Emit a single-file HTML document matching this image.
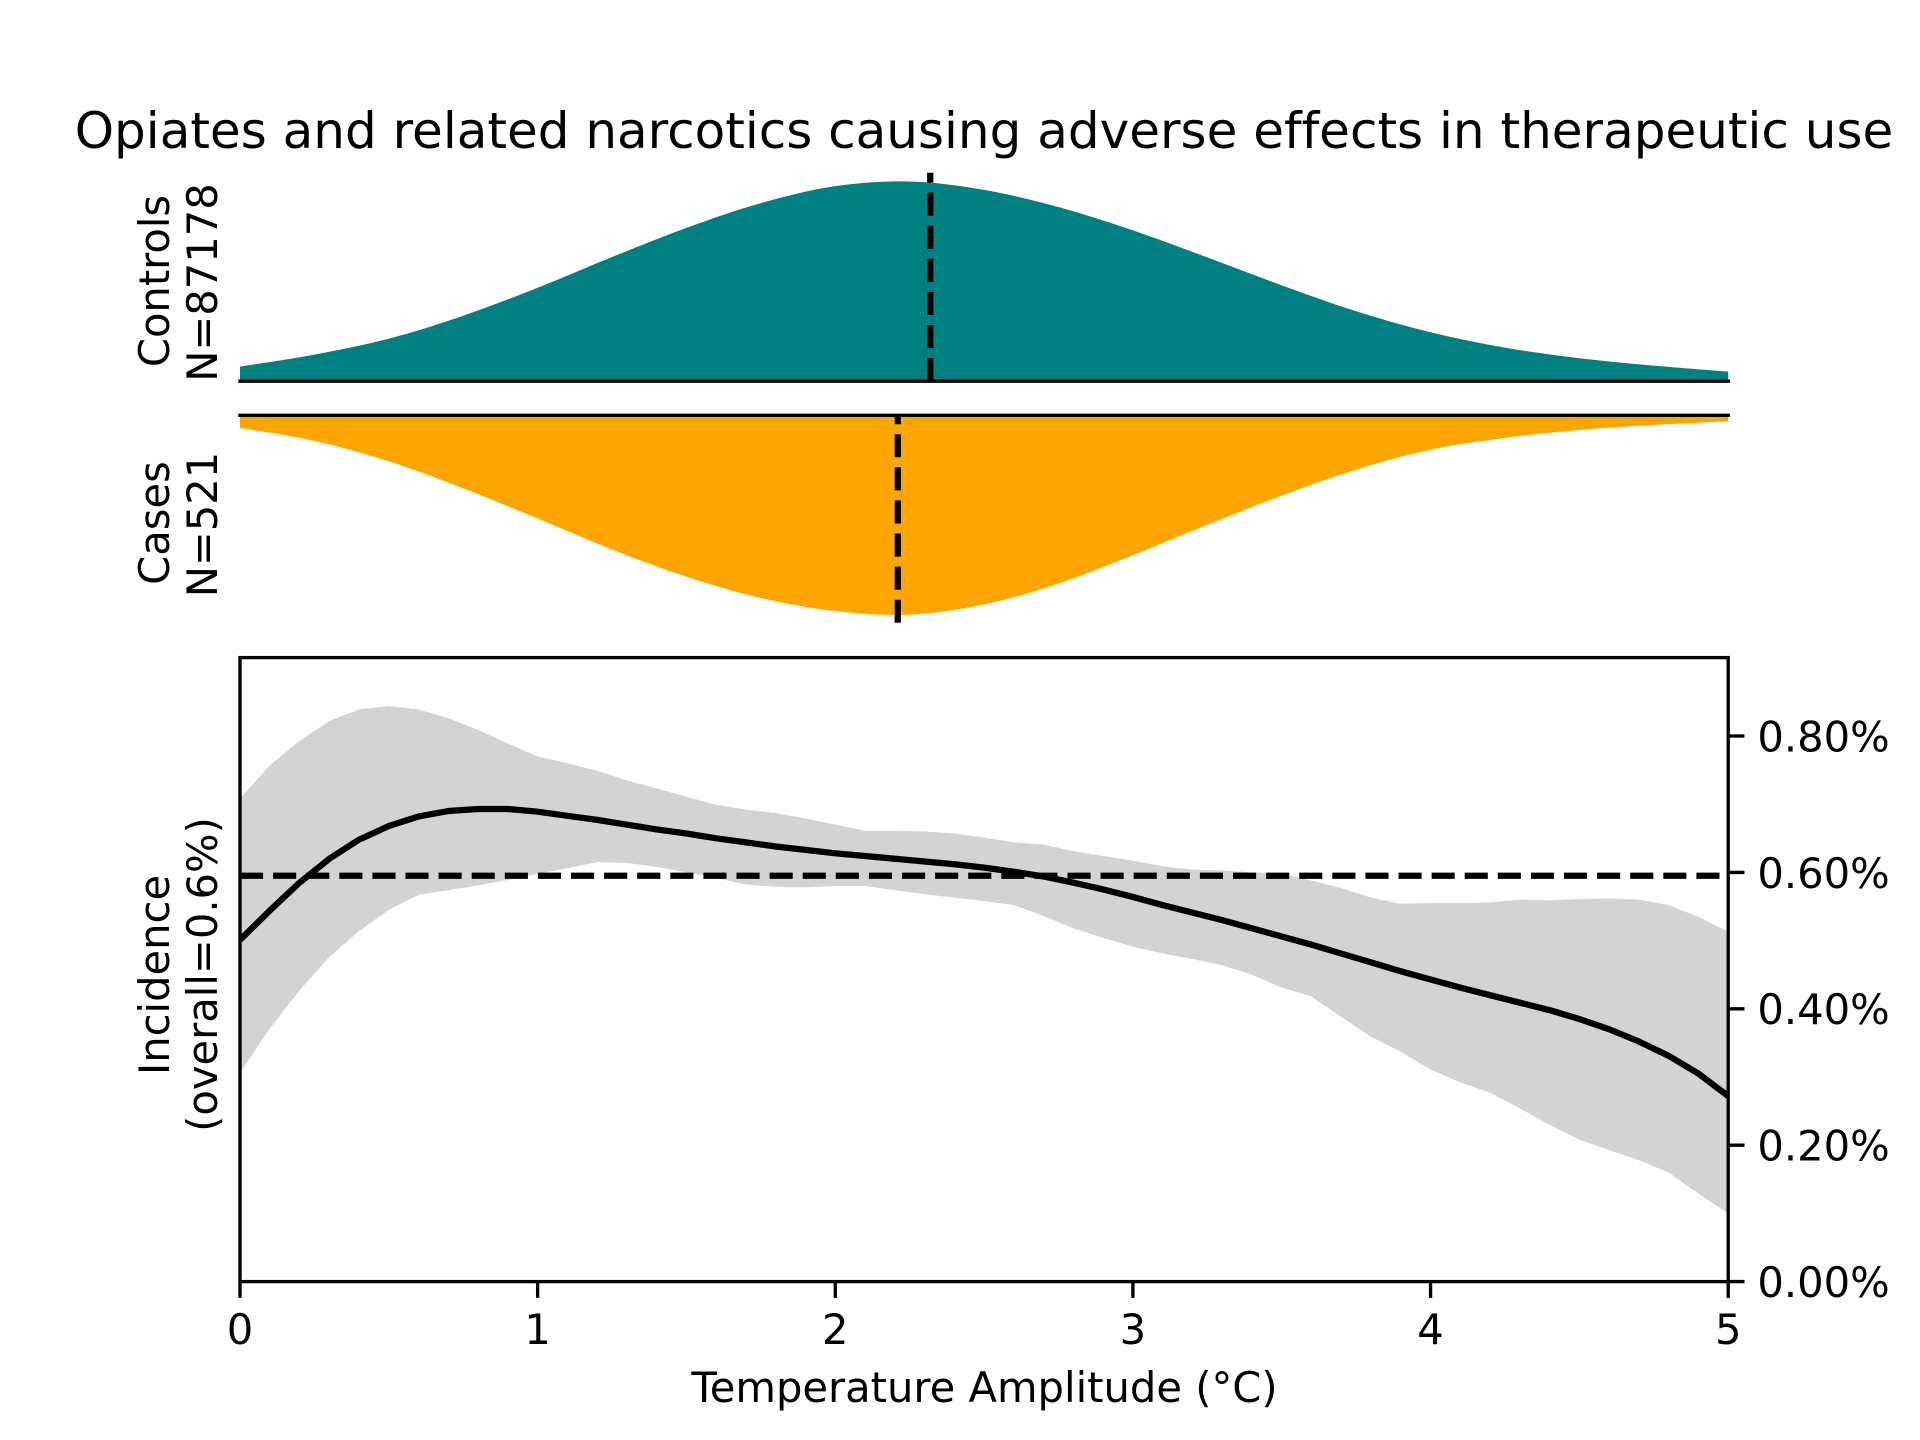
<!DOCTYPE html>
<html lang="en">
<head>
<meta charset="utf-8">
<title>Opiates and related narcotics causing adverse effects in therapeutic use</title>
<style>
html,body{margin:0;padding:0;background:#fff;width:1920px;height:1440px;overflow:hidden}
svg{display:block}
text{font-family:"DejaVu Sans","Liberation Sans",sans-serif;fill:#000;font-variant-ligatures:none}
</style>
</head>
<body>
<svg id="chart" xmlns="http://www.w3.org/2000/svg" width="1920" height="1440" viewBox="0 0 1920 1440">
  <rect x="0" y="0" width="1920" height="1440" fill="#fff"/>
  <defs>
    <clipPath id="bottom-clip"><rect x="240" y="657.6" width="1488" height="624"/></clipPath>
  </defs>
  <text x="984" y="148" font-size="50" text-anchor="middle">Opiates and related narcotics causing adverse effects in therapeutic use</text>
  <g id="controls-layer"></g>
  <g id="cases-layer"></g>
  <g id="incidence-layer"></g>
  <g id="tick-layer"></g>

  <g>
    <text font-size="41.67" text-anchor="middle" transform="translate(169 281) rotate(-90)">Controls</text>
    <text font-size="41.67" text-anchor="middle" transform="translate(217 282.5) rotate(-90)">N=87178</text>
  </g>
  <g>
    <text font-size="41.67" text-anchor="middle" transform="translate(169 523) rotate(-90)">Cases</text>
    <text font-size="41.67" text-anchor="middle" transform="translate(217 524.5) rotate(-90)">N=521</text>
  </g>
  <g>
    <text font-size="41.67" text-anchor="middle" transform="translate(169 975) rotate(-90)">Incidence</text>
    <text font-size="41.67" text-anchor="middle" transform="translate(217 974.5) rotate(-90)">(overall=0.6%)</text>
  </g>
  <text x="984.5" y="1402" font-size="41.67" text-anchor="middle">Temperature Amplitude (°C)</text>
</svg>
<script>
const densityGrid = [0,0.25,0.5,0.75,1,1.25,1.5,1.75,2,2.25,2.5,2.75,3,3.25,3.5,3.75,4,4.25,4.5,4.75,5];
const controlsDensity = [0.073,0.133,0.213,0.328,0.468,0.622,0.768,0.892,0.977,1.0,0.958,0.872,0.755,0.62,0.48,0.35,0.245,0.168,0.115,0.078,0.048];
const casesDensity = [0.063,0.128,0.23,0.365,0.517,0.672,0.808,0.915,0.98,0.998,0.947,0.842,0.70,0.548,0.402,0.272,0.172,0.113,0.073,0.048,0.030];
const controlsMean = 2.319;
const casesMean = 2.21;
const incidenceGrid = [0,0.1,0.2,0.3,0.4,0.5,0.6,0.7,0.8,0.9,1,1.1,1.2,1.3,1.4,1.5,1.6,1.7,1.8,1.9,2,2.1,2.2,2.3,2.4,2.5,2.6,2.7,2.8,2.9,3,3.1,3.2,3.3,3.4,3.5,3.6,3.7,3.8,3.9,4,4.1,4.2,4.3,4.4,4.5,4.6,4.7,4.8,4.9,5];
const incidenceUpper = [0.708,0.757,0.793,0.822,0.839,0.844,0.839,0.826,0.809,0.789,0.770,0.760,0.749,0.735,0.723,0.711,0.699,0.692,0.687,0.679,0.670,0.661,0.661,0.660,0.657,0.651,0.644,0.641,0.631,0.624,0.617,0.609,0.604,0.603,0.600,0.598,0.588,0.577,0.563,0.554,0.555,0.555,0.556,0.560,0.559,0.561,0.562,0.560,0.552,0.535,0.513];
const incidenceLower = [0.306,0.371,0.427,0.476,0.514,0.545,0.567,0.574,0.581,0.589,0.598,0.606,0.615,0.614,0.608,0.600,0.592,0.582,0.579,0.578,0.580,0.580,0.574,0.568,0.563,0.558,0.552,0.536,0.518,0.504,0.491,0.481,0.473,0.464,0.450,0.431,0.418,0.388,0.359,0.337,0.311,0.292,0.277,0.254,0.230,0.208,0.193,0.178,0.160,0.129,0.100];
const incidenceMean = [0.501,0.544,0.585,0.620,0.648,0.668,0.682,0.690,0.693,0.693,0.689,0.683,0.677,0.670,0.663,0.657,0.650,0.644,0.638,0.633,0.628,0.624,0.620,0.616,0.612,0.607,0.601,0.594,0.585,0.575,0.564,0.552,0.541,0.530,0.518,0.506,0.494,0.481,0.468,0.455,0.443,0.431,0.420,0.409,0.398,0.385,0.370,0.352,0.331,0.305,0.272];
const overallIncidence = 0.595;
const xTickValues = [0,1,2,3,4,5];
const xTickLabels = ["0","1","2","3","4","5"];
const yTickValues = [0,0.2,0.4,0.6,0.8];
const yTickLabels = ["0.00%","0.20%","0.40%","0.60%","0.80%"];

const NS = 'http://www.w3.org/2000/svg';
const LEFT = 240, RIGHT = 1728.2;
const INC_TOP = 657.6, INC_BOTTOM = 1281.6;
const CONTROLS_TOP = 172.8, CONTROLS_BASE = 381.2;
const CASES_BASE = 415.3, CASES_BOTTOM = 622.8;
const DENSITY_PX = 199.7;
const INC_PX = 682;

function xAxis(t){ return LEFT + t * (RIGHT - LEFT) / 5; }
function controlsY(v){ return CONTROLS_BASE - v * DENSITY_PX; }
function casesY(v){ return CASES_BASE + v * DENSITY_PX; }
function incY(v){ return INC_BOTTOM - v * INC_PX; }

function make(tag, attrs, parent){
  const el = document.createElementNS(NS, tag);
  for (const k in attrs) el.setAttribute(k, attrs[k]);
  parent.appendChild(el);
  return el;
}
function smoothPath(pts){
  let d = 'M' + pts[0][0].toFixed(2) + ' ' + pts[0][1].toFixed(2);
  for (let i = 0; i < pts.length - 1; i++){
    const p0 = pts[Math.max(i-1,0)], p1 = pts[i], p2 = pts[i+1], p3 = pts[Math.min(i+2,pts.length-1)];
    const c1x = p1[0] + (p2[0]-p0[0])/6, c1y = p1[1] + (p2[1]-p0[1])/6;
    const c2x = p2[0] - (p3[0]-p1[0])/6, c2y = p2[1] - (p3[1]-p1[1])/6;
    d += 'C' + c1x.toFixed(2) + ' ' + c1y.toFixed(2) + ' ' + c2x.toFixed(2) + ' ' + c2y.toFixed(2) + ' ' + p2[0].toFixed(2) + ' ' + p2[1].toFixed(2);
  }
  return d;
}
function polyPoints(xs, ys, yFn){
  return xs.map(function(t, i){ return xAxis(t).toFixed(2) + ',' + yFn(ys[i]).toFixed(2); });
}

const controlsLayer = document.getElementById('controls-layer');
const casesLayer = document.getElementById('cases-layer');
const incidenceLayer = document.getElementById('incidence-layer');
const tickLayer = document.getElementById('tick-layer');

/* Controls density */
const controlsPts = densityGrid.map(function(t, i){ return [xAxis(t), controlsY(controlsDensity[i])]; });
const controlsFill = make('path', {
  d: smoothPath(controlsPts) + 'L' + xAxis(5) + ' ' + CONTROLS_BASE + 'L' + xAxis(0) + ' ' + CONTROLS_BASE + 'Z',
  fill: '#008080'
}, controlsLayer);



const controlsSpine = make('line', { x1: LEFT-1.7, x2: RIGHT+1.7, y1: CONTROLS_BASE, y2: CONTROLS_BASE, stroke: '#000', 'stroke-width': 3.33 }, controlsLayer);



const controlsLine = make('line', { x1: xAxis(controlsMean), x2: xAxis(controlsMean), y1: CONTROLS_BASE, y2: CONTROLS_TOP, stroke: '#000', 'stroke-width': 6.25, 'stroke-dasharray': '23.1 10' }, controlsLayer);



/* Cases density */
const casesPts = densityGrid.map(function(t, i){ return [xAxis(t), casesY(casesDensity[i])]; });
const casesFill = make('path', {
  d: smoothPath(casesPts) + 'L' + xAxis(5) + ' ' + CASES_BASE + 'L' + xAxis(0) + ' ' + CASES_BASE + 'Z',
  fill: '#FFA500'
}, casesLayer);



const casesSpine = make('line', { x1: LEFT-1.7, x2: RIGHT+1.7, y1: CASES_BASE, y2: CASES_BASE, stroke: '#000', 'stroke-width': 3.33 }, casesLayer);



const casesLine = make('line', { x1: xAxis(casesMean), x2: xAxis(casesMean), y1: CASES_BOTTOM, y2: CASES_BASE, stroke: '#000', 'stroke-width': 6.25, 'stroke-dasharray': '23.1 10' }, casesLayer);



/* Incidence panel */
const bandPts = polyPoints(incidenceGrid, incidenceUpper, incY)
  .concat(polyPoints(incidenceGrid, incidenceLower, incY).reverse());
const band = make('polygon', { points: bandPts.join(' '), fill: '#D3D3D3' }, incidenceLayer);



const overallLine = make('line', { x1: LEFT, x2: RIGHT, y1: incY(overallIncidence), y2: incY(overallIncidence), stroke: '#000', 'stroke-width': 6.25, 'stroke-dasharray': '23.1 10' }, incidenceLayer);



const meanLine = make('polyline', { points: polyPoints(incidenceGrid, incidenceMean, incY).join(' '), fill: 'none', stroke: '#000', 'stroke-width': 6.25, 'stroke-linejoin': 'round', 'clip-path': 'url(#bottom-clip)' }, incidenceLayer);



const frame = make('rect', { x: LEFT, y: INC_TOP, width: RIGHT-LEFT, height: INC_BOTTOM-INC_TOP, fill: 'none', stroke: '#000', 'stroke-width': 3.33 }, incidenceLayer);



/* Ticks */
xTickValues.forEach(function(v, i){
  const tick = make('line', { x1: xAxis(v), x2: xAxis(v), y1: INC_BOTTOM, y2: INC_BOTTOM + 14.6 + 1.7, stroke: '#000', 'stroke-width': 3.33 }, tickLayer);
  
  
  const label = make('text', { x: xAxis(v), y: 1344, 'font-size': 41.67, 'text-anchor': 'middle' }, tickLayer);
  
  
  label.textContent = xTickLabels[i];
});
yTickValues.forEach(function(v, i){
  const tick = make('line', { x1: RIGHT, x2: RIGHT + 14.6 + 1.7, y1: incY(v), y2: incY(v), stroke: '#000', 'stroke-width': 3.33 }, tickLayer);
  
  
  const label = make('text', { x: 1757.4, y: incY(v) + 15.4, 'font-size': 41.67 }, tickLayer);
  
  
  label.textContent = yTickLabels[i];
});
</script>
</body>
</html>
